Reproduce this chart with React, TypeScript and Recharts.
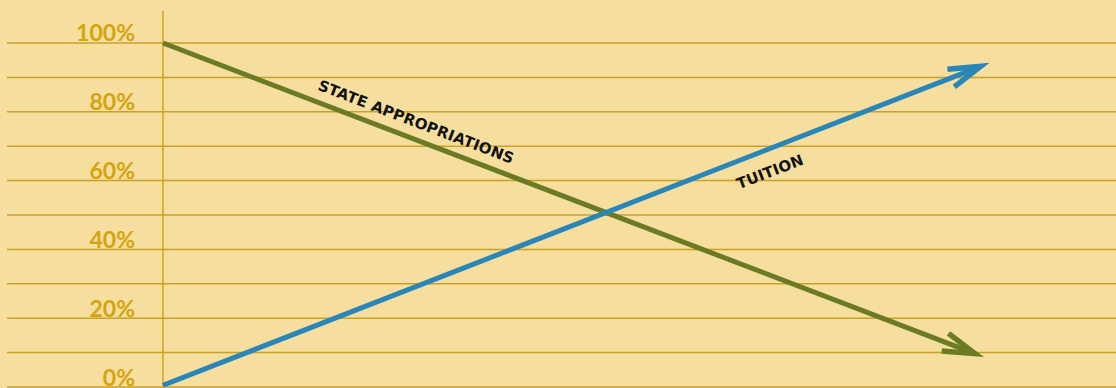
import React from "react";
import { LineChart, Line, XAxis, YAxis, ReferenceLine, ReferenceDot } from "recharts";

const yTicks = [0, 10, 20, 30, 40, 50, 60, 70, 80, 90, 100];
const labeledTicks = [0, 20, 40, 60, 80, 100];

const stateX = [0, 8.52];
const stateShare = [100, 9.7];
const tuitionX = [0, 8.58];
const tuitionShare = [0.5, 93.2];

const stateData = stateX.map((x, i) => ({ x, v: stateShare[i] }));
const tuitionData = tuitionX.map((x, i) => ({ x, v: tuitionShare[i] }));

const BG = "#F5DE9E";
const GRID = "#C9A129";
const TICK = "#D4A40E";
const GREEN = "#6B7B24";
const BLUE = "#2A86B8";

const tickLabel = (value: number) => (props: any) => {
  const vb = props.viewBox || {};
  return (
    <text x={135} y={vb.y - 1.5} textAnchor="end" fill={TICK} fontFamily="Lato, sans-serif" fontSize={23} fontWeight={700}>
      {value}%
    </text>
  );
};

const RotLabel = (text: string, angle: number) => (props: any) => {
  const vb = props.viewBox || {};
  const cx = vb.x + (vb.width || 0) / 2;
  const cy = vb.y + (vb.height || 0) / 2;
  return (
    <text
      x={cx}
      y={cy}
      textAnchor="middle"
      dominantBaseline="central"
      transform={`rotate(${angle}, ${cx}, ${cy})`}
      fill="#111"
      fontFamily="'DejaVu Sans', sans-serif"
      fontWeight="bold"
      fontSize={15}
      letterSpacing={0.2}
    >
      {text}
    </text>
  );
};

export default function App() {
  return (
    <div style={{ position: "fixed", left: 0, top: 0, width: 1116, height: 388, background: BG }}>
      <svg width={0} height={0} style={{ position: "absolute" }}>
        <defs>
          <marker id="arrowGreen" markerUnits="userSpaceOnUse" orient="auto" refX={0} refY={0} markerWidth={40} markerHeight={40} overflow="visible" style={{ overflow: "visible" }}>
            <path d="M -32 -9.5 L 0 0 L -32 9.5" fill="none" stroke={GREEN} strokeWidth={5.5} />
          </marker>
          <marker id="arrowBlue" markerUnits="userSpaceOnUse" orient="auto" refX={0} refY={0} markerWidth={40} markerHeight={40} overflow="visible" style={{ overflow: "visible" }}>
            <path d="M -32 -9.5 L 0 0 L -32 9.5" fill="none" stroke={BLUE} strokeWidth={5.5} />
          </marker>
        </defs>
      </svg>
      <LineChart width={1116} height={388} margin={{ top: 11, right: 0, bottom: 1, left: 7 }}>
        <XAxis type="number" dataKey="x" domain={[-1.637, 10]} hide allowDataOverflow />
        <YAxis type="number" domain={[0, 109.3]} ticks={yTicks} hide allowDataOverflow />
        {yTicks.map((t) => (
          <ReferenceLine
            key={t}
            y={t}
            stroke={GRID}
            strokeWidth={1.5}
            label={labeledTicks.includes(t) ? tickLabel(t) : undefined}
          />
        ))}
        <ReferenceLine x={0} stroke={TICK} strokeWidth={1.5} />
        <Line
          data={stateData}
          dataKey="v"
          stroke={GREEN}
          strokeWidth={5}
          dot={false}
          isAnimationActive={false}
          markerEnd="url(#arrowGreen)"
        />
        <Line
          data={tuitionData}
          dataKey="v"
          stroke={BLUE}
          strokeWidth={5}
          dot={false}
          isAnimationActive={false}
          markerEnd="url(#arrowBlue)"
        />
        <ReferenceDot x={2.655} y={77} r={0} stroke="none" fill="none" label={RotLabel("STATE APPROPRIATIONS", 20.9)} />
        <ReferenceDot x={6.37} y={62.5} r={0} stroke="none" fill="none" label={RotLabel("TUITION", -21)} />
      </LineChart>
    </div>
  );
}
